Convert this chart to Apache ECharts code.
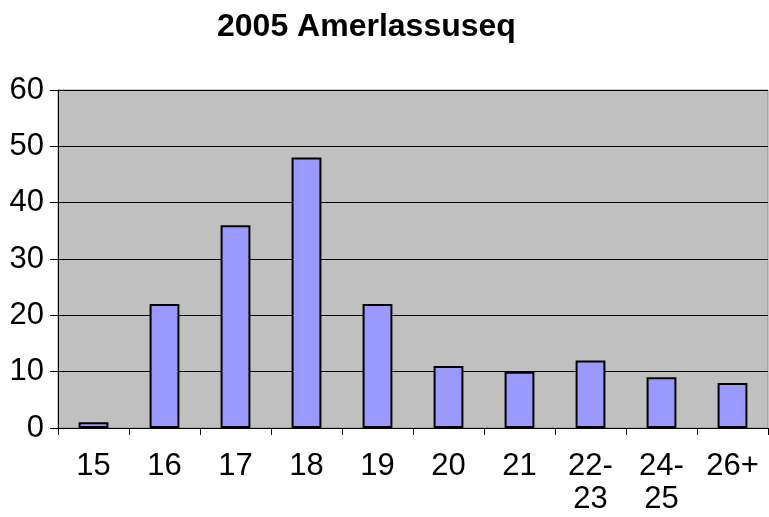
<!DOCTYPE html>
<html>
<head>
<meta charset="utf-8">
<title>2005 Amerlassuseq</title>
<script src="https://cdn.jsdelivr.net/npm/echarts@6/dist/echarts.min.js"></script>
<style>
	* { margin: 0; padding: 0 }
	html, body { width: 100%; height: 100%; background: #fff; }
	#main { width: 769px; height: 517px; }
</style>
</head>
<body>
<div id="main"></div>
<script>
	var categories = ['15', '16', '17', '18', '19', '20', '21', '22-\n23', '24-\n25', '26+'];
	var values = [1, 22, 36, 48, 22, 11, 10, 12, 9, 8];
	var yTicks = [0, 10, 20, 30, 40, 50, 60];

	var chart = echarts.init(document.getElementById('main'));
	chart.setOption({
		animation: false,
		textStyle: { fontFamily: 'Liberation Sans, Arial, sans-serif' },
		title: {
			text: '2005 Amerlassuseq',
			left: 212,
			top: 6,
			textStyle: { fontSize: 32, fontWeight: 'bold', color: '#000', fontFamily: 'Liberation Sans, Arial, sans-serif' }
		},
		grid: {
			left: 58, right: 1, top: 90, bottom: 89,
			show: true,
			backgroundColor: '#c0c0c0',
			borderColor: '#8c8c8c',
			borderWidth: 1
		},
		xAxis: {
			type: 'category',
			data: categories,
			axisLine: { lineStyle: { color: '#000', width: 1 } },
			axisTick: { show: true, length: 7, inside: false, lineStyle: { color: '#000' } },
			axisLabel: { fontSize: 31, color: '#000', margin: 22, lineHeight: 33, interval: 0 }
		},
		yAxis: {
			type: 'value',
			min: yTicks[0],
			max: yTicks[yTicks.length - 1],
			interval: 10,
			axisLine: { show: true, lineStyle: { color: '#000', width: 1 } },
			axisTick: { show: true, length: 8, lineStyle: { color: '#000' } },
			axisLabel: { fontSize: 31, color: '#000', margin: 14 },
			splitLine: { lineStyle: { color: '#000', width: 1 } }
		},
		series: [{
			type: 'bar',
			data: values,
			barWidth: '42%',
			itemStyle: { color: '#9999ff', borderColor: '#000', borderWidth: 2 }
		}]
	});
</script>
</body>
</html>
